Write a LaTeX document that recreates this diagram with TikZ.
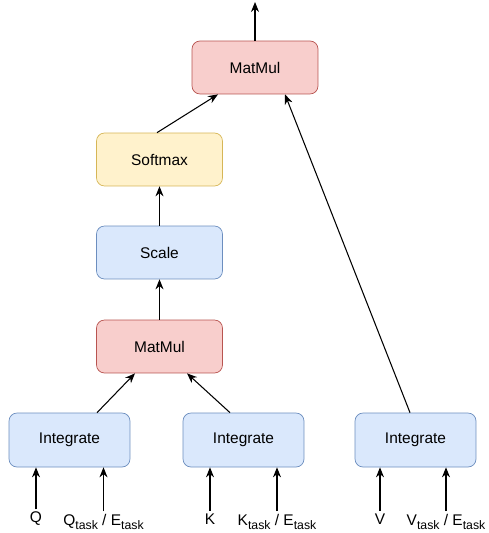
\documentclass[tikz,border=0pt]{standalone}
\usepackage{fontspec}
\setmainfont{Liberation Sans}
\usetikzlibrary{arrows.meta, positioning, calc}

\definecolor{blueFill}{HTML}{DAE8FC}
\definecolor{blueLine}{HTML}{6C8EBF}
\definecolor{redFill}{HTML}{F8CECC}
\definecolor{redLine}{HTML}{B85450}
\definecolor{yellowFill}{HTML}{FFF2CC}
\definecolor{yellowLine}{HTML}{D6B656}

\newcommand{\tasksub}{\raisebox{-0.3em}{\fontsize{7}{8}\selectfont task}}

\tikzset{
  opbox/.style={draw, rounded corners=0.16cm, minimum width=2.52cm, minimum height=1.06cm,
    font=\fontsize{8.8}{10}\selectfont},
  bluebox/.style={opbox, fill=blueFill, draw=blueLine},
  redbox/.style={opbox, fill=redFill, draw=redLine},
  yellowbox/.style={opbox, fill=yellowFill, draw=yellowLine},
  intbox/.style={bluebox, minimum width=2.42cm, minimum height=1.08cm},
  inlabel/.style={inner sep=0.05cm, font=\fontsize{8.8}{10}\selectfont},
  arr/.style={-{Stealth[length=0.2cm, width=0.16cm]}, line width=0.6pt},
}

\begin{document}
\begin{tikzpicture}[x=0.02cm, y=-0.02cm, line join=round]
      \useasboundingbox (0,0) rectangle (488,533);
      % operation blocks
      \node[redbox] (mmTop) at (255,67.5) {MatMul};
      \node[yellowbox] (softmax) at (159.5,159.5) {Softmax};
      \node[bluebox] (scale) at (159.5,252.5) {Scale};
      \node[redbox] (mmLow) at (159.5,346.5) {MatMul};
      \node[intbox] (intQ) at (69.5,440) {Integrate};
      \node[intbox] (intK) at (243.5,440) {Integrate};
      \node[intbox] (intV) at (415.5,440) {Integrate};
      \coordinate (out) at (255,2);
      % inputs
      \node[inlabel] (inQ) at (36,519) {Q};
      \node[inlabel, anchor=north] (inQt) at (103.5,511) {Q\tasksub\ / E\tasksub};
      \node[inlabel] (inK) at (210,519) {K};
      \node[inlabel, anchor=north] (inKt) at (277,511) {K\tasksub\ / E\tasksub};
      \node[inlabel] (inV) at (380,519) {V};
      \node[inlabel, anchor=north] (inVt) at (446,511) {V\tasksub\ / E\tasksub};
      \foreach \i/\b in {inQ/intQ, inQt/intQ, inK/intK, inKt/intK, inV/intV, inVt/intV} {
        \draw[arr] (\i.north) -- (\i.north |- \b.south);
      }
      % connectors
      \draw[arr] ([xshift=0.55cm]intQ.north) -- ([xshift=-0.49cm]mmLow.south);
      \draw[arr] ([xshift=-0.27cm]intK.north) -- ([xshift=0.55cm]mmLow.south);
      \draw[arr] (mmLow) -- (scale);
      \draw[arr] (scale) -- (softmax);
      \draw[arr] ([xshift=-0.05cm]softmax.north) -- ([xshift=-0.74cm]mmTop.south);
      \draw[arr] ([xshift=-0.11cm]intV.north) -- ([xshift=0.6cm]mmTop.south);
      \draw[arr] (mmTop) -- (out);
    \end{tikzpicture}
\end{document}
